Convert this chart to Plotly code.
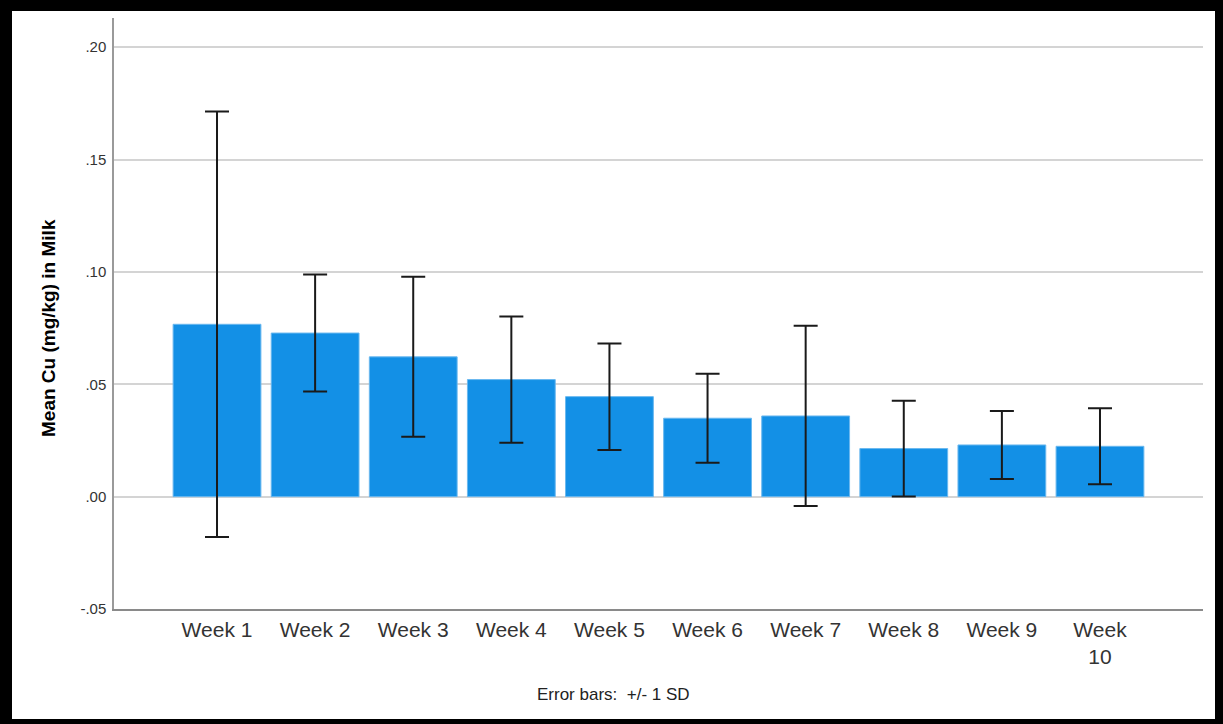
import plotly.graph_objects as go

# Weekly mean copper concentration in milk with +/- 1 SD
weeks = ["Week 1", "Week 2", "Week 3", "Week 4", "Week 5",
         "Week 6", "Week 7", "Week 8", "Week 9", "Week<br>10"]
mean_cu = [0.0767, 0.0728, 0.0622, 0.0521, 0.0445,
           0.0349, 0.0359, 0.0214, 0.0230, 0.0224]
sd_cu = [0.0947, 0.0260, 0.0356, 0.0281, 0.0237,
         0.0198, 0.0401, 0.0213, 0.0151, 0.0169]

y_ticks = [-0.05, 0.0, 0.05, 0.10, 0.15, 0.20]
y_tick_text = ["-.05", ".00", ".05", ".10", ".15", ".20"]

W, H = 1223, 724
L, R, T, B = 114, 20, 18, 115
pw, ph = W - L - R, H - T - B

FONT = "Liberation Sans, Arial, sans-serif"

fig = go.Figure()
fig.add_trace(go.Bar(
    x=list(range(len(weeks))),
    y=mean_cu,
    marker=dict(color="#1390e6", line=dict(color="#6ab8ef", width=1)),
    error_y=dict(type="data", array=sd_cu, symmetric=True,
                 color="#1a1a1a", thickness=2, width=12),
    showlegend=False,
))


def px_x(p):
    return (p - L) / pw


def px_y(p):
    return (H - B - p) / ph


# Black frame around the whole figure
frame = [(0, 0, 12, H), (0, 0, W, 11), (1215, 0, W, H), (0, 719, W, H)]
shapes = []
for x0, y0, x1, y1 in frame:
    shapes.append(dict(type="rect", xref="paper", yref="paper",
                       x0=px_x(x0), x1=px_x(x1), y0=px_y(y1), y1=px_y(y0),
                       fillcolor="black", line=dict(width=0), layer="above"))

fig.update_layout(
    width=W, height=H,
    margin=dict(l=L, r=R, t=T, b=B),
    paper_bgcolor="white", plot_bgcolor="white",
    bargap=0.105,
    font=dict(family=FONT, color="#333333"),
    xaxis=dict(
        range=[-1.05, len(weeks) - 1 + 1.05],
        tickvals=list(range(len(weeks))), ticktext=weeks,
        showgrid=False, zeroline=False,
        showline=True, linecolor="#8a8a8a", linewidth=1.5,
        tickfont=dict(size=21, color="#333333"),
        ticks="", ticklabelstandoff=1,
    ),
    yaxis=dict(
        range=[-0.05, 0.213],
        tickvals=y_ticks, ticktext=y_tick_text,
        showgrid=True, gridcolor="#d4d4d4", gridwidth=1.5,
        zeroline=False,
        showline=True, linecolor="#9a9a9a", linewidth=1.5,
        tickfont=dict(size=15, color="#333333"),
        ticks="", ticklabelstandoff=3,
    ),
    shapes=shapes,
    annotations=[
        dict(text="<b>Mean Cu (mg/kg) in Milk</b>", textangle=-90,
             xref="paper", yref="paper", x=px_x(48), y=px_y(328),
             xanchor="center", yanchor="middle",
             showarrow=False, font=dict(size=19, color="black", family=FONT)),
        dict(text="Error bars:  +/- 1 SD",
             xref="paper", yref="paper", x=px_x(613), y=px_y(694),
             xanchor="center", yanchor="middle",
             showarrow=False, font=dict(size=17, color="#222222", family=FONT)),
    ],
)

fig.write_html("out.html")
